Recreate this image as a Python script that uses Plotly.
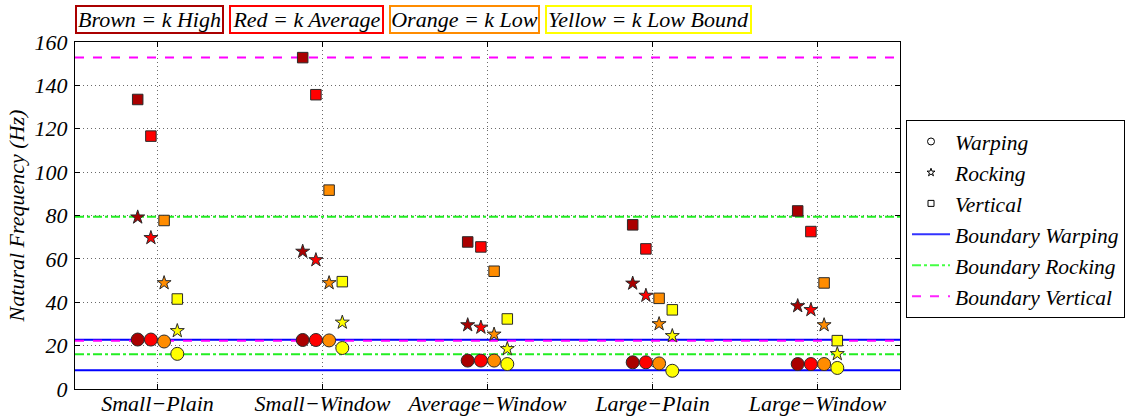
import plotly.graph_objects as go

# Test cases on the x axis
categories = ["Small−Plain", "Small−Window", "Average−Window", "Large−Plain", "Large−Window"]
y_ticks = [0, 20, 40, 60, 80, 100, 120, 140, 160]

# Stiffness levels: label, colour, horizontal offset inside a category
levels = ["k High", "k Average", "k Low", "k Low Bound"]
level_names = ["Brown", "Red", "Orange", "Yellow"]
level_colors = ["#AA0000", "#FF0000", "#FF8C00", "#FFFF00"]
level_offsets = [-0.12, -0.04, 0.04, 0.12]

# Natural frequencies (Hz), one list per stiffness level, one value per category
warping = {
    "k High":      [22.8, 22.6, 13.1, 12.3, 11.5],
    "k Average":   [22.8, 22.6, 13.1, 12.3, 11.5],
    "k Low":       [21.9, 22.4, 13.1, 11.8, 11.5],
    "k Low Bound": [16.2, 18.9, 11.5, 8.4, 9.7],
}
rocking = {
    "k High":      [79.2, 63.4, 29.5, 48.7, 38.3],
    "k Average":   [69.7, 59.5, 28.4, 43.1, 36.5],
    "k Low":       [48.9, 48.9, 25.2, 30.0, 29.5],
    "k Low Bound": [26.8, 30.7, 18.5, 24.5, 16.2],
}
vertical = {
    "k High":      [133.5, 152.8, 67.8, 75.7, 82.1],
    "k Average":   [116.6, 135.7, 65.5, 64.6, 72.6],
    "k Low":       [77.7, 91.7, 54.3, 41.8, 48.9],
    "k Low Bound": [41.5, 49.5, 32.3, 36.5, 22.3],
}

# Boundary frequencies (Hz): upper and lower limit for each mode
boundary_warping = [22.7, 8.6]
boundary_rocking = [79.4, 16.0]
boundary_vertical = [152.8, 22.2]

SERIF = "Liberation Serif"

W, H = 1128, 419
ML, MR, MT, MB = 75, 228, 42, 30
PW, PH = W - ML - MR, H - MT - MB


def px_x(px):
    return (px - ML) / PW


def px_y(py):
    return (H - MB - py) / PH


def serif(size):
    return dict(family=SERIF, size=size, color="black")


def it(s):
    return f"<i>{s}</i>"


fig = go.Figure()

x_lo, x_hi = 0.5, len(categories) + 0.5


def hline_trace(vals, name, color, dash):
    xs, ys = [], []
    for v in vals:
        xs += [x_lo, x_hi, None]
        ys += [v, v, None]
    return go.Scatter(x=xs, y=ys, mode="lines", name=name,
                      line=dict(color=color, width=2, dash=dash),
                      showlegend=False, hoverinfo="skip")


fig.add_trace(hline_trace(boundary_warping, "Boundary Warping", "#0000FF", "solid"))
fig.add_trace(hline_trace(boundary_rocking, "Boundary Rocking", "#22EE22", "dashdot"))
fig.add_trace(hline_trace(boundary_vertical, "Boundary Vertical", "#FF00FF", "dash"))

modes = [("Warping", warping, "circle", 13),
         ("Rocking", rocking, "star", 10.5),
         ("Vertical", vertical, "square", 10.5)]

for mode_name, data, symbol, size in modes:
    for lvl, col, off in zip(levels, level_colors, level_offsets):
        fig.add_trace(go.Scatter(
            x=[i + 1 + off for i in range(len(categories))],
            y=data[lvl],
            mode="markers",
            name=f"{mode_name} {lvl}",
            marker=dict(symbol=symbol, size=size, color=col,
                        line=dict(color="#2a2a2a", width=1)),
            showlegend=False,
        ))

# Legend entries: open marker symbols and the boundary line styles
for i, (mode_name, _, symbol, _) in enumerate(modes):
    fig.add_trace(go.Scatter(
        x=[None], y=[None], mode="markers", name=it(mode_name),
        marker=dict(symbol=symbol, size=7 if symbol == "circle" else 6,
                    color="white", line=dict(color="black", width=1)),
        legendgroup=f"g{i}",
    ))
for i, (name, color, dash) in enumerate([
        ("Boundary Warping", "#3333FF", "solid"),
        ("Boundary Rocking", "#44FF44", "dashdot"),
        ("Boundary Vertical", "#FF22FF", "dash")]):
    fig.add_trace(go.Scatter(
        x=[None], y=[None], mode="lines", name=it(name),
        line=dict(color=color, width=2, dash=dash),
        legendgroup=f"h{i}",
    ))

# Colour key boxes above the plot
box_edges = [(75, 224), (229, 384), (389, 540), (545, 752)]
for (x0, x1), nm, lvl, col in zip(box_edges, level_names, levels, level_colors):
    fig.add_annotation(
        xref="paper", yref="paper",
        x=px_x((x0 + x1) / 2), y=px_y(19.5),
        xanchor="center", yanchor="middle",
        text=it(f"{nm} = {lvl}"), showarrow=False,
        width=x1 - x0 - 4, height=25, borderpad=0,
        bordercolor=col, borderwidth=2, bgcolor="white",
        font=serif(22),
    )

axis_common = dict(
    showline=True, linecolor="black", linewidth=1, mirror="ticks",
    ticks="inside", ticklen=5, tickcolor="black",
    showgrid=True, gridcolor="#6a6a6a", griddash="1px,3px", gridwidth=1,
    zeroline=False,
    tickfont=serif(22),
)

fig.update_layout(
    width=W, height=H,
    margin=dict(l=ML, r=MR, t=MT, b=MB, autoexpand=False),
    paper_bgcolor="white", plot_bgcolor="white",
    font=serif(20),
    xaxis=dict(range=[x_lo, x_hi], tickvals=list(range(1, len(categories) + 1)),
               ticktext=[it(c) for c in categories], ticklabelstandoff=-5,
               **axis_common),
    yaxis=dict(range=[0, 160], tickvals=y_ticks, ticktext=[it(v) for v in y_ticks],
               ticklabelstandoff=2,
               title=dict(text=it("Natural Frequency (Hz)"), standoff=3, font=serif(22)),
               **axis_common),
    legend=dict(x=px_x(906), y=px_y(120), xanchor="left", yanchor="top",
                bordercolor="black", borderwidth=1, bgcolor="white",
                font=serif(21.5), tracegroupgap=0, itemwidth=38),
    showlegend=True,
)

fig.write_html("out.html")
